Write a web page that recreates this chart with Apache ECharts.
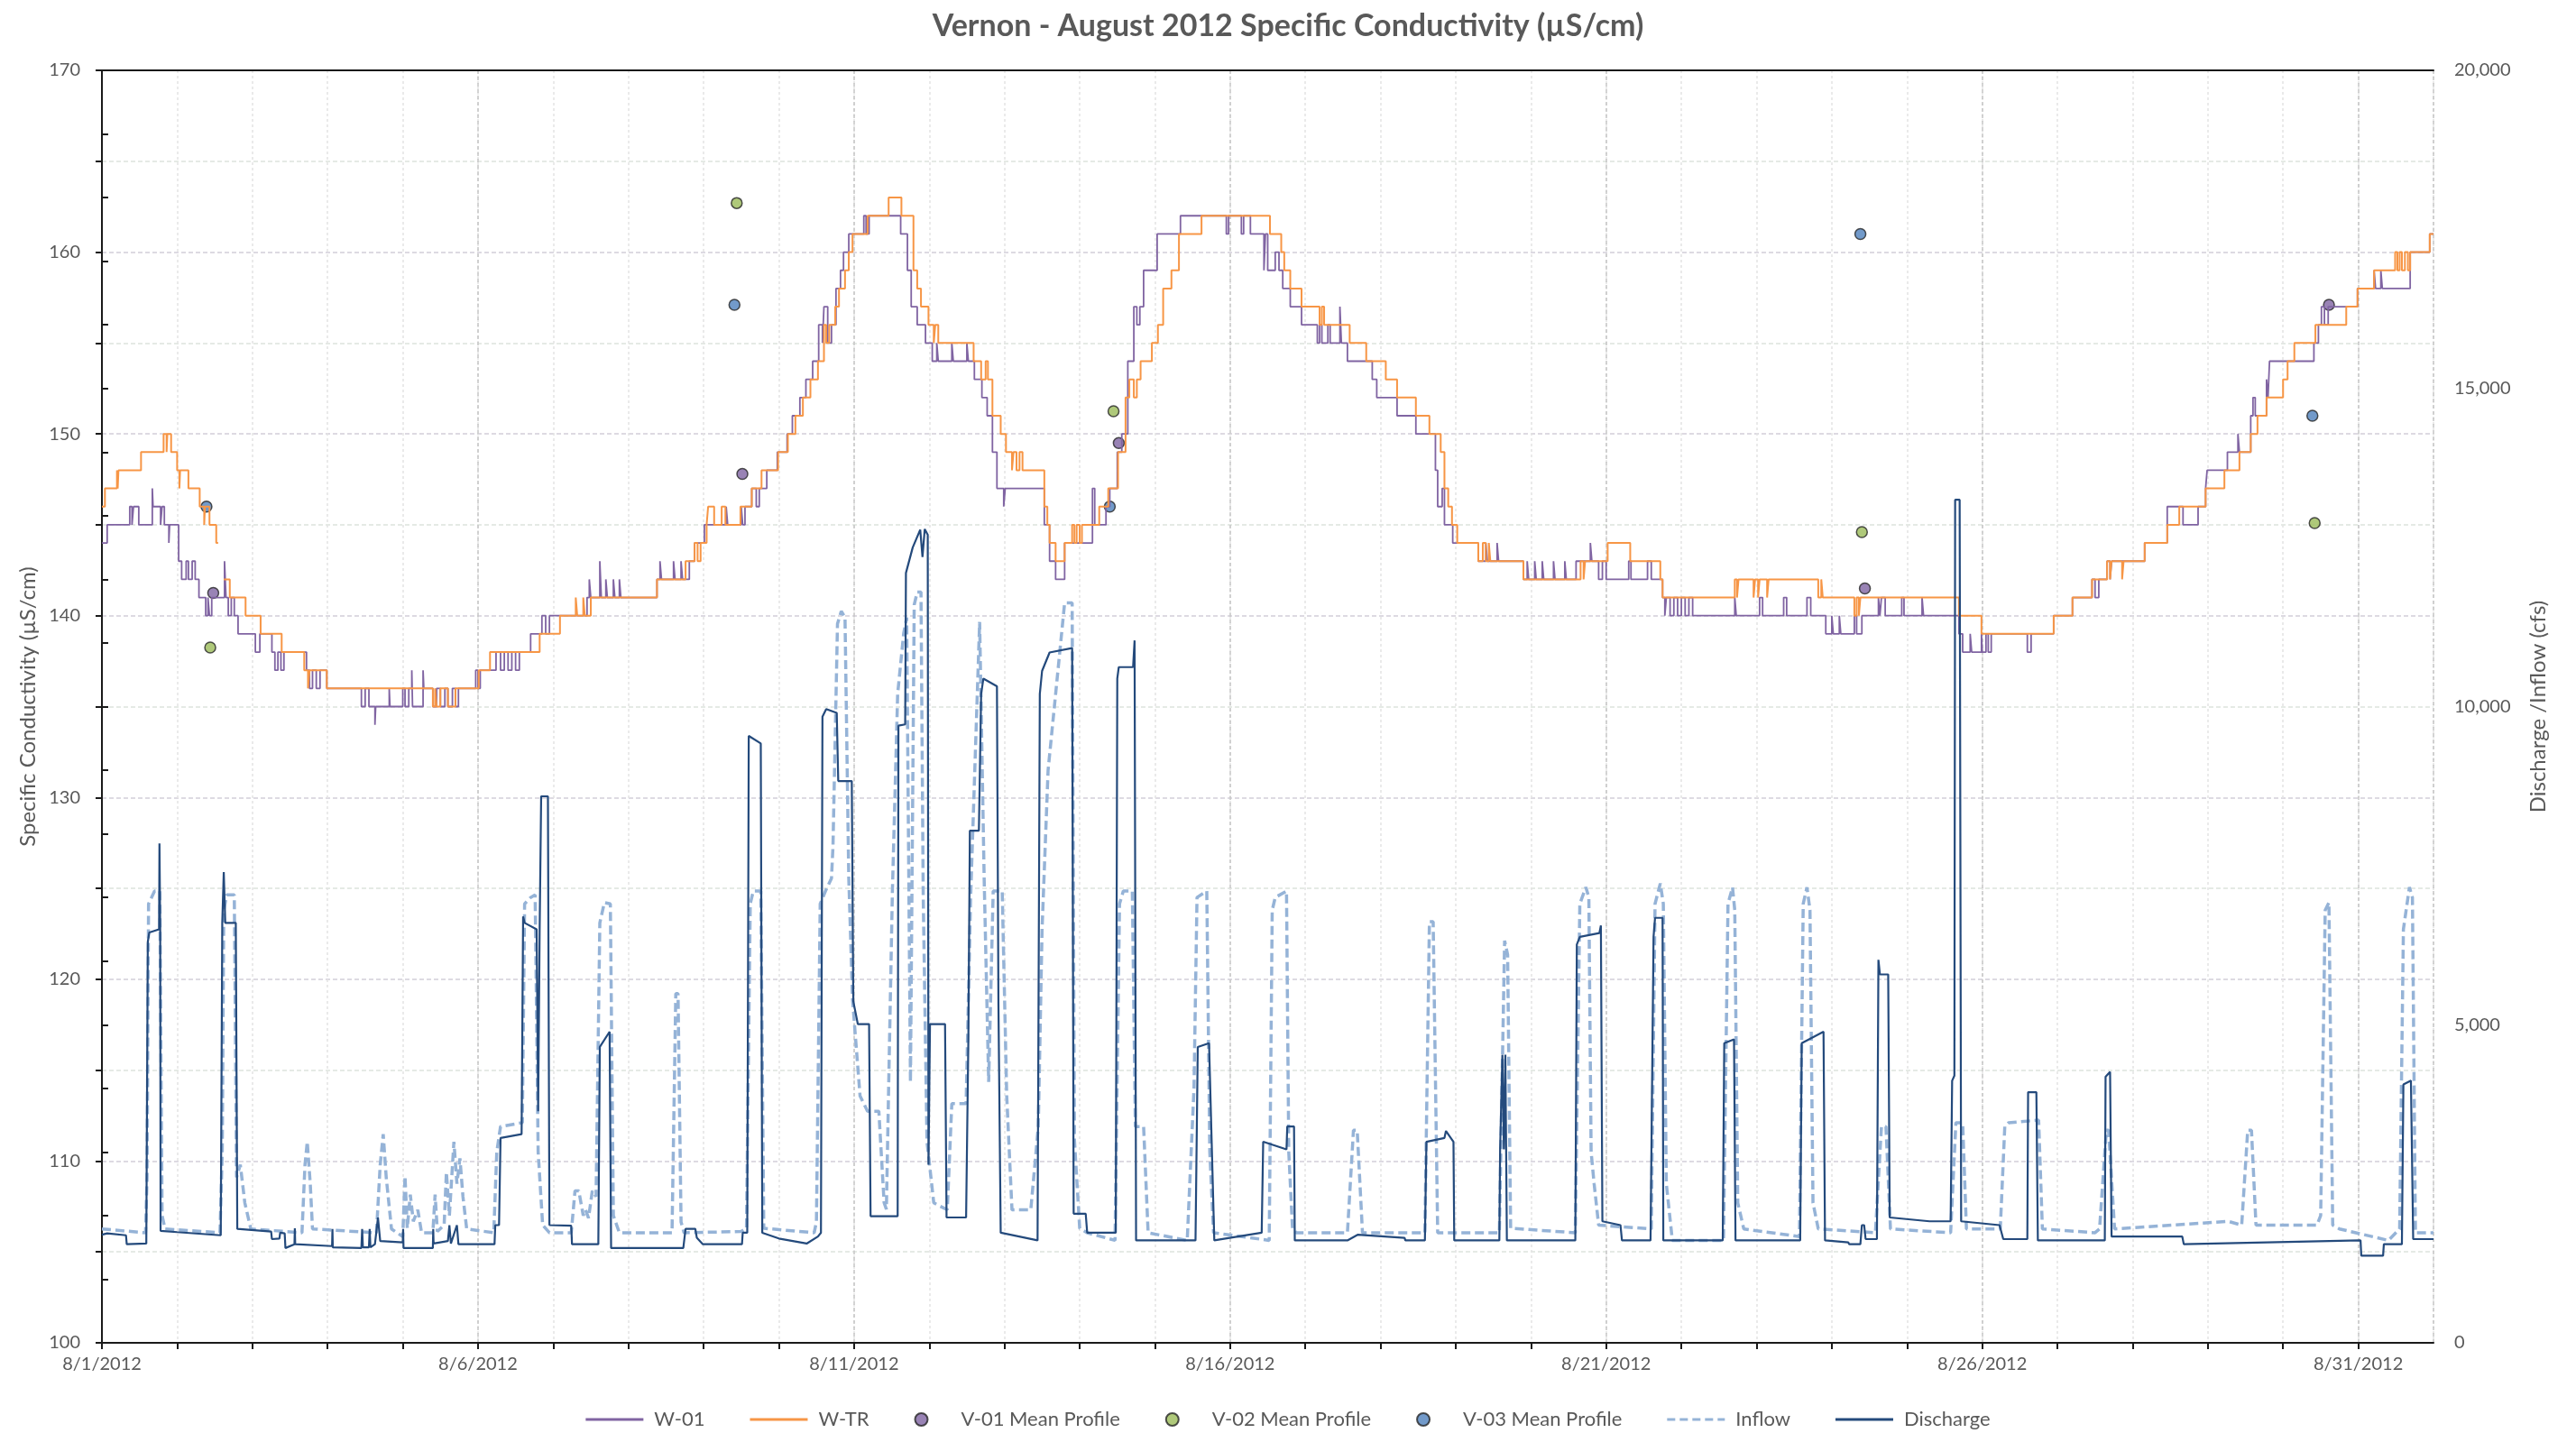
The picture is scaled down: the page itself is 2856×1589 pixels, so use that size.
<!DOCTYPE html>
<html><head><meta charset="utf-8">
<script src="https://cdn.jsdelivr.net/npm/echarts@6/dist/echarts.min.js"></script>
<style>html,body{margin:0;padding:0;background:#fff}#c{width:2856px;height:1589px}</style>
</head><body><div id="c"></div>
<script>
// x values are days since 8/1/2012 00:00
const titleText = 'Vernon - August 2012 Specific Conductivity (µS/cm)';
const xTickLabels = ['8/1/2012','8/6/2012','8/11/2012','8/16/2012','8/21/2012','8/26/2012','8/31/2012'];
const leftAxisName = 'Specific Conductivity (µS/cm)';
const rightAxisName = 'Discharge /Inflow (cfs)';

const w01 = [
[0.00,144],[0.07,145],[0.37,146],[0.40,145],[0.42,146],[0.49,145],[0.67,147],[0.68,146],[0.78,145],[0.80,146],[0.83,145],[0.89,144],[0.90,145],[1.02,143],[1.06,142],[1.12,143],[1.15,142],[1.20,143],[1.24,142],[1.29,141],[1.38,140],[1.41,141],[1.43,140],[1.46,141],[1.63,143],[1.65,141],[1.68,140],[1.72,141],[1.76,140],[1.81,139],[2.04,138],[2.10,139],[2.26,138],[2.30,137],[2.34,138],[2.38,137],[2.42,138],[2.72,137],[2.76,136],[2.80,137],[2.85,136],[2.90,137],[2.99,136],[3.45,135],[3.50,136],[3.55,135],[3.63,134],[3.64,135],[3.82,136],[3.83,135],[4.00,136],[4.03,135],[4.08,136],[4.12,137],[4.13,135],[4.27,137],[4.28,136],[4.40,135],[4.45,136],[4.50,135],[4.56,136],[4.60,135],[4.66,136],[4.70,135],[4.74,136],[4.97,137],[5.00,136],[5.03,137],[5.24,138],[5.30,137],[5.35,138],[5.40,137],[5.45,138],[5.50,137],[5.55,138],[5.70,139],[5.85,140],[5.90,139],[5.95,140],[6.45,141],[6.48,142],[6.50,141],[6.62,143],[6.64,141],[6.70,142],[6.72,141],[6.80,142],[6.82,141],[6.88,142],[6.90,141],[7.38,142],[7.42,143],[7.44,142],[7.60,143],[7.62,142],[7.70,143],[7.72,142],
[7.81,143],[7.88,144],[8.01,145],[8.30,146],[8.32,145],[8.50,146],[8.52,145],[8.55,146],[8.64,147],[8.70,146],[8.74,147],[8.84,148],[8.98,149],[9.11,150],[9.18,151],[9.28,152],[9.36,153],[9.45,154],[9.53,156],[9.58,155],[9.60,157],[9.65,155],[9.70,156],[9.76,158],[9.82,159],[9.86,160],[9.93,161],[10.13,162],[10.16,161],[10.20,162],[10.62,161],[10.71,159],[10.76,157],[10.84,156],[10.95,155],[11.04,154],[11.10,155],[11.12,154],[11.30,155],[11.32,154],[11.50,155],[11.52,154],[11.60,153],[11.70,152],[11.77,151],[11.84,149],[11.90,147],[11.99,146],[12.01,147],[12.53,145],[12.60,143],[12.68,142],[12.80,144],[13.17,147],[13.20,145],[13.35,146],[13.40,147],[13.50,149],[13.56,150],[13.64,154],[13.72,157],[13.76,156],[13.80,157],[13.85,159],[14.03,161],[14.34,162],[14.95,161],[14.98,162],[15.15,161],[15.18,162],[15.27,161],[15.45,159],[15.47,161],[15.50,159],
[15.60,160],[15.65,159],[15.70,158],[15.80,157],[15.95,156],[16.16,155],[16.19,156],[16.22,155],[16.30,156],[16.33,155],[16.46,157],[16.48,155],[16.56,154],[16.89,153],[16.95,152],[17.22,151],[17.47,150],[17.73,148],[17.76,146],[17.82,147],[17.85,145],[17.96,144],[18.30,143],[18.40,144],[18.42,143],[18.55,144],[18.57,143],[18.90,142],[18.95,143],[18.97,142],[19.05,143],[19.07,142],[19.15,143],[19.17,142],[19.30,143],[19.32,142],[19.45,143],[19.47,142],[19.60,143],[19.79,144],[19.81,143],[19.90,142],[19.95,143],[20.00,142],[20.30,143],[20.33,142],[20.55,143],[20.60,142],[20.75,141],[20.78,140],[20.80,141],[20.85,140],[20.90,141],[20.95,140],[21.00,141],[21.05,140],[21.10,141],[21.15,140],[21.71,141],[21.73,140],[22.04,141],[22.08,140],[22.36,141],[22.40,140],[22.67,141],[22.72,140],[22.92,139],[23.00,140],[23.02,139],[23.10,140],[23.12,139],
[23.25,139],[23.30,140],[23.33,139],[23.40,140],[23.62,141],[23.64,140],[23.66,141],[23.71,140],[23.93,141],[23.96,140],[24.20,141],[24.22,140],[24.69,139],[24.74,138],[24.84,139],[24.86,138],[24.99,139],[25.00,138],[25.05,139],[25.08,138],[25.12,139],[25.60,138],[25.65,139],[25.95,140],[26.20,141],[26.46,142],[26.50,141],[26.55,142],[26.66,143],[26.70,142],[26.72,143],[27.16,144],[27.46,146],[27.67,145],[27.87,146],[27.97,147],[27.99,148],[28.26,149],[28.40,150],[28.42,149],[28.57,151],[28.60,152],[28.63,151],[28.78,153],[28.80,152],[28.82,154],[29.41,155],[29.47,156],[29.51,157],[29.55,156],[29.60,157],[29.99,158],[30.21,159],[30.23,158],[30.30,159],[30.32,158],[30.69,160],[30.95,161],[31.00,161]
];

const wtr = [
[0.00,146],[0.04,147],[0.20,148],[0.21,147],[0.22,148],[0.52,149],[0.82,150],[0.86,149],[0.87,150],[0.92,149],[1.00,148],[1.03,147],[1.04,148],[1.15,147],[1.30,146],[1.36,145],[1.37,146],[1.43,145],[1.52,144],[1.545,null],
[1.62,142],[1.70,141],[1.91,140],[2.11,139],[2.39,138],[2.69,137],[2.74,136],[2.76,137],[2.99,136],[4.40,135],[4.43,136],[4.45,135],[4.50,136],[4.60,135],[4.70,136],[5.01,137],[5.16,138],[5.82,139],[6.09,140],[6.30,141],[6.32,140],[6.40,141],[6.42,140],[6.50,141],[7.38,142],[7.76,143],[7.88,144],[7.92,143],[7.96,144],[8.04,145],[8.06,146],[8.14,145],[8.24,146],[8.29,145],[8.49,146],[8.64,147],[8.77,148],[8.99,149],[9.12,150],[9.22,151],[9.32,152],[9.42,153],[9.52,154],[9.60,156],[9.63,155],[9.67,156],[9.75,157],[9.80,158],[9.88,159],[9.93,160],[9.98,161],[10.18,162],[10.46,163],[10.63,162],[10.79,159],[10.84,158],[10.89,157],[10.99,156],[11.06,155],[11.08,156],[11.12,155],[11.59,154],[11.69,153],[11.75,154],[11.78,153],[11.84,151],[11.95,150],[12.02,149],[12.10,148],[12.12,149],[12.16,148],[12.20,149],[12.24,148],[12.53,146],[12.57,145],[12.60,144],[12.68,143],[12.80,144],[12.90,145],[12.93,144],[12.96,145],[13.00,144],[13.03,145],[13.26,146],[13.38,147],[13.51,149],[13.61,152],[13.66,153],[13.72,152],[13.76,153],[13.81,154],[13.96,155],[14.04,156],[14.11,158],[14.22,159],[14.32,161],[14.62,162],[15.53,161],
[15.68,160],[15.72,159],[15.80,158],[15.95,157],[16.19,156],[16.22,157],[16.25,156],[16.59,155],[16.81,154],[17.07,153],[17.22,152],[17.47,151],[17.65,150],[17.80,149],[17.85,147],[17.90,146],[17.95,145],[18.02,144],[18.30,143],[18.36,144],[18.40,143],[18.44,144],[18.46,143],[18.90,142],[19.66,143],[19.70,142],[19.72,143],[20.02,144],[20.32,143],[20.72,142],[20.75,141],[21.71,142],[21.74,141],[21.76,142],[21.96,141],[21.98,142],[22.02,141],[22.04,142],[22.14,141],[22.16,142],[22.82,141],[22.86,142],[22.88,141],[23.30,140],[23.33,141],[23.36,140],[23.38,141],[24.69,140],[24.99,139],[25.95,140],[26.20,141],[26.46,142],[26.66,143],[26.70,142],[26.72,143],[26.86,142],[26.88,143],[27.16,144],[27.46,145],[27.62,146],[27.97,147],[28.22,148],[28.42,149],[28.57,150],[28.66,151],[28.78,152],[29.00,153],[29.06,154],[29.15,155],[29.43,156],[29.84,157],[29.99,158],[30.21,159],[30.49,160],[30.52,159],[30.55,160],[30.58,159],[30.62,160],[30.66,159],[30.69,160],[30.95,161],[31.00,161]
];

const v01 = [[1.48,141.25],[8.515,147.8],[13.52,149.5],[23.44,141.5],[29.61,157.1]];
const v02 = [[1.44,138.25],[8.44,162.7],[13.45,151.25],[23.40,144.6],[29.42,145.1]];
const v03 = [[1.39,146.0],[8.41,157.1],[13.40,146.0],[23.38,161.0],[29.39,151.0]];

const inflow = [
[0.00,1790],[0.58,1730],[0.60,2600],[0.62,6900],[0.70,7100],[0.77,7100],[0.80,2000],[0.84,1790],[1.57,1730],[1.60,3000],[1.62,6800],[1.66,7040],[1.76,7040],[1.79,2600],[1.84,2800],[1.90,2200],[1.98,1790],[2.66,1730],[2.70,2800],[2.73,3160],[2.77,2500],[2.80,1790],[3.65,1730],[3.70,2800],[3.74,3280],[3.78,2600],[3.85,1790],[4.00,1670],[4.03,2620],[4.06,1800],[4.10,2330],[4.14,1910],[4.20,2090],[4.25,1730],[4.40,1730],[4.43,2330],[4.46,1750],[4.55,1850],[4.58,2680],[4.62,2000],[4.68,3160],[4.72,2500],[4.76,2900],[4.80,2300],[4.85,1790],[5.21,1730],[5.25,3000],[5.30,3400],[5.59,3460],[5.62,6900],[5.70,7000],[5.76,7040],[5.80,3000],[5.86,1850],[5.95,1730],[6.24,1730],[6.29,2390],[6.34,2390],[6.40,2000],[6.43,2090],[6.47,1960],[6.52,2390],[6.57,2300],[6.62,6600],[6.68,6920],[6.76,6900],[6.80,2000],[6.88,1730],[7.58,1730],[7.63,5490],[7.66,5490],[7.70,1900],[7.74,1730],
[8.50,1750],[8.57,1800],[8.62,6900],[8.66,7100],[8.76,7100],[8.80,1800],[9.47,1730],[9.50,1900],[9.55,6900],[9.62,7100],[9.70,7300],[9.72,7800],[9.78,11300],[9.83,11500],[9.88,11400],[9.93,7300],[9.98,5400],[10.08,3880],[10.18,3640],[10.33,3640],[10.40,2200],[10.43,2100],[10.46,4000],[10.51,7100],[10.58,10200],[10.66,11150],[10.70,11400],[10.75,4100],[10.80,11600],[10.84,11800],[10.89,11800],[10.92,7000],[10.97,3160],[11.06,2200],[11.24,2090],[11.30,3760],[11.49,3760],[11.55,7000],[11.67,11330],[11.73,7300],[11.79,4100],[11.85,7100],[11.97,7100],[12.03,3880],[12.10,2090],[12.35,2090],[12.45,3400],[12.50,6500],[12.58,9000],[12.80,11630],[12.90,11630],[12.93,3200],[13.00,1800],[13.10,1730],[13.47,1610],[13.53,6900],[13.58,7100],[13.70,7100],[13.74,3400],[13.85,3400],[13.91,1730],[14.43,1610],[14.52,4000],[14.56,7000],[14.69,7100],[14.73,3000],[14.78,1730],[15.52,1610],[15.56,6800],[15.60,7000],[15.75,7100],[15.78,3000],[15.83,1790],[15.88,1730],[16.56,1730],[16.64,3340],[16.69,3340],[16.76,1730],[17.59,1730],[17.65,6620],[17.70,6620],[17.76,1730],[18.58,1730],[18.65,6320],[18.69,6100],[18.73,1800],[19.59,1730],[19.65,6900],[19.73,7160],[19.77,7000],[19.80,3000],[19.84,2500],[19.90,1850],[20.60,1790],[20.65,6900],[20.72,7220],[20.76,6900],[20.80,2500],[20.88,1610],[21.56,1610],[21.62,6900],[21.68,7160],[21.71,6800],[21.75,2200],[21.83,1790],[22.57,1670],[22.62,6900],[22.67,7160],[22.71,6800],[22.75,2200],[22.82,1790],[23.58,1730],[23.66,3400],[23.72,3400],[23.78,1790],[24.58,1730],[24.65,3460],[24.74,3460],[24.79,1790],[25.24,1790],[25.30,3400],[25.35,3460],[25.75,3500],[25.80,1790],[26.50,1730],[26.56,1790],[26.65,3340],[26.68,3340],[26.76,1790],[28.27,1910],[28.45,1850],[28.53,3340],[28.58,3340],[28.64,1850],[29.45,1850],[29.50,2000],[29.56,6800],[29.61,6920],[29.66,1850],[29.75,1790],[30.40,1610],[30.55,1790],[30.60,6500],[30.68,7160],[30.72,7000],[30.76,1730],[31.00,1730]
];

const discharge = [
[0.00,1700],[0.07,1720],[0.32,1690],[0.33,1550],[0.59,1560],[0.61,6300],[0.63,6450],[0.76,6500],[0.765,7850],[0.775,6500],[0.78,1760],[1.00,1740],[1.58,1690],[1.60,6600],[1.62,7400],[1.64,6600],[1.78,6600],[1.80,1790],[2.25,1750],[2.26,1630],[2.36,1640],[2.37,1730],[2.43,1720],[2.44,1490],[2.56,1550],[2.565,1800],[2.57,1550],[3.06,1520],[3.065,1790],[3.07,1500],[3.45,1490],[3.46,1790],[3.47,1500],[3.55,1500],[3.56,1790],[3.57,1500],[3.63,1550],[3.67,1970],[3.70,1600],[4.00,1580],[4.005,1790],[4.01,1490],[4.40,1490],[4.405,1790],[4.41,1560],[4.60,1600],[4.62,1850],[4.64,1560],[4.72,1850],[4.74,1550],[5.22,1550],[5.23,1850],[5.28,1850],[5.30,3220],[5.58,3280],[5.60,6700],[5.62,6600],[5.78,6500],[5.80,3640],[5.82,6500],[5.84,8590],[5.93,8590],[5.95,1850],[6.24,1840],[6.25,1550],[6.60,1550],[6.62,4650],[6.75,4890],[6.77,1490],[7.73,1490],[7.76,1790],[7.89,1790],[7.91,1650],[7.99,1550],[8.51,1550],[8.52,1730],[8.58,1730],[8.60,9540],[8.76,9420],[8.78,1730],[9.00,1640],[9.37,1560],[9.52,1670],[9.56,1730],[9.58,9840],[9.63,9960],[9.77,9900],[9.79,8830],[9.97,8830],[9.99,5370],[10.05,5010],[10.20,5010],[10.22,1990],[10.58,1990],[10.59,9700],[10.68,9720],[10.69,12100],[10.78,12500],[10.88,12780],[10.91,12350],[10.94,12790],[10.98,12700],[10.99,2800],[11.01,5010],[11.21,5010],[11.23,1970],[11.49,1970],[11.52,4770],[11.54,8050],[11.66,8050],[11.69,10200],[11.72,10440],[11.90,10320],[11.92,5310],[11.95,1730],[12.44,1610],[12.47,10200],[12.50,10560],[12.60,10850],[12.90,10920],[12.92,2030],[13.08,2030],[13.10,1730],[13.48,1730],[13.50,10440],[13.52,10620],[13.71,10620],[13.73,11040],[13.75,1610],[14.54,1610],[14.57,4650],[14.72,4710],[14.79,1610],[15.42,1730],[15.44,3160],[15.75,3040],[15.76,3400],[15.85,3400],[15.86,1610],[16.56,1610],[16.70,1700],[17.32,1650],[17.33,1610],[17.59,1610],[17.61,3160],[17.85,3220],[17.87,3330],[17.97,3160],[17.98,1610],[18.58,1610],[18.59,3040],[18.62,4530],[18.64,3040],[18.66,4530],[18.68,1610],[19.59,1610],[19.61,6260],[19.65,6380],[19.91,6440],[19.93,6560],[19.95,1910],[20.19,1850],[20.21,1610],[20.59,1610],[20.63,6380],[20.65,6680],[20.75,6680],[20.76,1610],[21.55,1610],[21.57,4710],[21.70,4770],[21.72,1610],[22.58,1610],[22.60,4710],[22.89,4890],[22.91,1610],[23.22,1580],[23.23,1550],[23.38,1550],[23.40,1850],[23.43,1850],[23.45,1630],[23.60,1630],[23.62,6020],[23.64,5790],[23.75,5790],[23.77,1970],[24.30,1910],[24.58,1910],[24.60,4120],[24.63,4200],[24.64,13250],[24.70,13250],[24.72,1910],[25.23,1850],[25.28,1630],[25.60,1630],[25.61,3940],[25.72,3940],[25.74,1610],[26.63,1610],[26.64,4180],[26.70,4260],[26.72,1670],[27.66,1670],[27.68,1550],[30.03,1610],[30.04,1370],[30.33,1370],[30.34,1550],[30.58,1550],[30.60,4060],[30.70,4120],[30.73,1630],[31.00,1630]
];

const FONT = 'Lato, "Open Sans", sans-serif';
const TXT = '#595959';
const AX = '#1a1a1a';
const LINE_ICON = 'path://M0,0h64v3h-64z';
const DASH_ICON = 'path://M0,0h9v3h-9z M14,0h9v3h-9z M28,0h9v3h-9z M42,0h9v3h-9z M56,0h8v3h-8z';
const chart = echarts.init(document.getElementById('c'), null, {renderer: 'canvas'});
chart.setOption({
  animation: false,
  backgroundColor: '#ffffff',
  title: {text: titleText, left: 'center', top: 7,
    textStyle: {fontFamily: FONT, fontWeight: 'bold', fontSize: 34, color: TXT}},
  grid: {left: 113, right: 158, top: 78, bottom: 100, show: false},
  legend: {top: 1558, left: 'center', itemGap: 50, itemWidth: 64, itemHeight: 14,
    textStyle: {fontFamily: FONT, fontSize: 22, color: TXT, padding: [0, 0, 0, 7]},
    data: [
      {name: 'W-01', icon: LINE_ICON},
      {name: 'W-TR', icon: LINE_ICON},
      {name: 'V-01 Mean Profile', icon: 'circle'},
      {name: 'V-02 Mean Profile', icon: 'circle'},
      {name: 'V-03 Mean Profile', icon: 'circle'},
      {name: 'Inflow', icon: DASH_ICON},
      {name: 'Discharge', icon: LINE_ICON}
    ]},
  xAxis: [
    {type: 'value', min: 0, max: 31, interval: 1,
      axisLine: {lineStyle: {color: AX, width: 2}},
      axisTick: {length: 7, lineStyle: {color: AX, width: 2}},
      axisLabel: {formatter: v => (v % 5 === 0 && v <= 30) ? xTickLabels[v / 5] : '', margin: 14,
        fontFamily: FONT, fontSize: 20, color: TXT, showMaxLabel: false},
      splitLine: {show: true, lineStyle: {color: '#E4E4E4', type: [3, 3], width: 1.5}}},
    {type: 'value', min: 0, max: 31, interval: 5, position: 'top',
      axisLine: {show: true, onZero: false, lineStyle: {color: AX, width: 2}},
      axisTick: {show: false}, axisLabel: {show: false},
      splitLine: {show: true, lineStyle: {color: '#C6C6C6', type: [4, 3], width: 1.5}}}
  ],
  yAxis: [
    {type: 'value', min: 100, max: 170, interval: 5, position: 'left',
      name: leftAxisName, nameLocation: 'middle', nameGap: 70, nameRotate: 90,
      nameTextStyle: {fontFamily: FONT, fontSize: 24, color: TXT},
      axisLine: {show: true, lineStyle: {color: AX, width: 2}},
      axisTick: {show: true, length: 7, lineStyle: {color: AX, width: 2}},
      axisLabel: {formatter: v => v % 10 === 0 ? String(v) : '', margin: 24, fontFamily: FONT, fontSize: 20, color: TXT},
      splitLine: {show: true, lineStyle: {color: ['#D2CED9', '#DDE4DD'], type: [5, 3], width: 1.5}}},
    {type: 'value', min: 0, max: 20000, interval: 1000, position: 'right',
      name: rightAxisName, nameLocation: 'middle', nameGap: 104, nameRotate: 90,
      nameTextStyle: {fontFamily: FONT, fontSize: 24, color: TXT},
      axisLine: {show: true, lineStyle: {color: AX, width: 2}},
      axisTick: {show: true, length: 7, lineStyle: {color: AX, width: 2}},
      axisLabel: {formatter: v => v % 5000 === 0 ? v.toLocaleString('en-US') : '', margin: 23, fontFamily: FONT, fontSize: 20, color: TXT},
      splitLine: {show: false}}
  ],
  series: [
    {name: 'W-01', type: 'line', step: 'end', data: w01, symbol: 'none', showSymbol: false,
      lineStyle: {color: '#8064A2', width: 1.8}, itemStyle: {color: '#8064A2'}},
    {name: 'W-TR', type: 'line', step: 'end', data: wtr, symbol: 'none', showSymbol: false,
      lineStyle: {color: '#F79646', width: 2}, itemStyle: {color: '#F79646'}},
    {name: 'V-01 Mean Profile', type: 'scatter', data: v01, symbol: 'circle', symbolSize: 12,
      itemStyle: {color: '#8064A2', borderColor: '#262626', borderWidth: 1.5}},
    {name: 'V-02 Mean Profile', type: 'scatter', data: v02, symbol: 'circle', symbolSize: 12,
      itemStyle: {color: '#9BBB59', borderColor: '#262626', borderWidth: 1.5}},
    {name: 'V-03 Mean Profile', type: 'scatter', data: v03, symbol: 'circle', symbolSize: 12,
      itemStyle: {color: '#4F81BD', borderColor: '#262626', borderWidth: 1.5}},
    {name: 'Inflow', type: 'line', yAxisIndex: 1, data: inflow, symbol: 'none', showSymbol: false,
      lineStyle: {color: '#95B3D7', width: 3.5, type: [10, 5]}, itemStyle: {color: '#95B3D7'}},
    {name: 'Discharge', type: 'line', yAxisIndex: 1, data: discharge, symbol: 'none', showSymbol: false,
      lineStyle: {color: '#244A7C', width: 2.2}, itemStyle: {color: '#244A7C'}}
  ]
});
</script>
</body></html>
